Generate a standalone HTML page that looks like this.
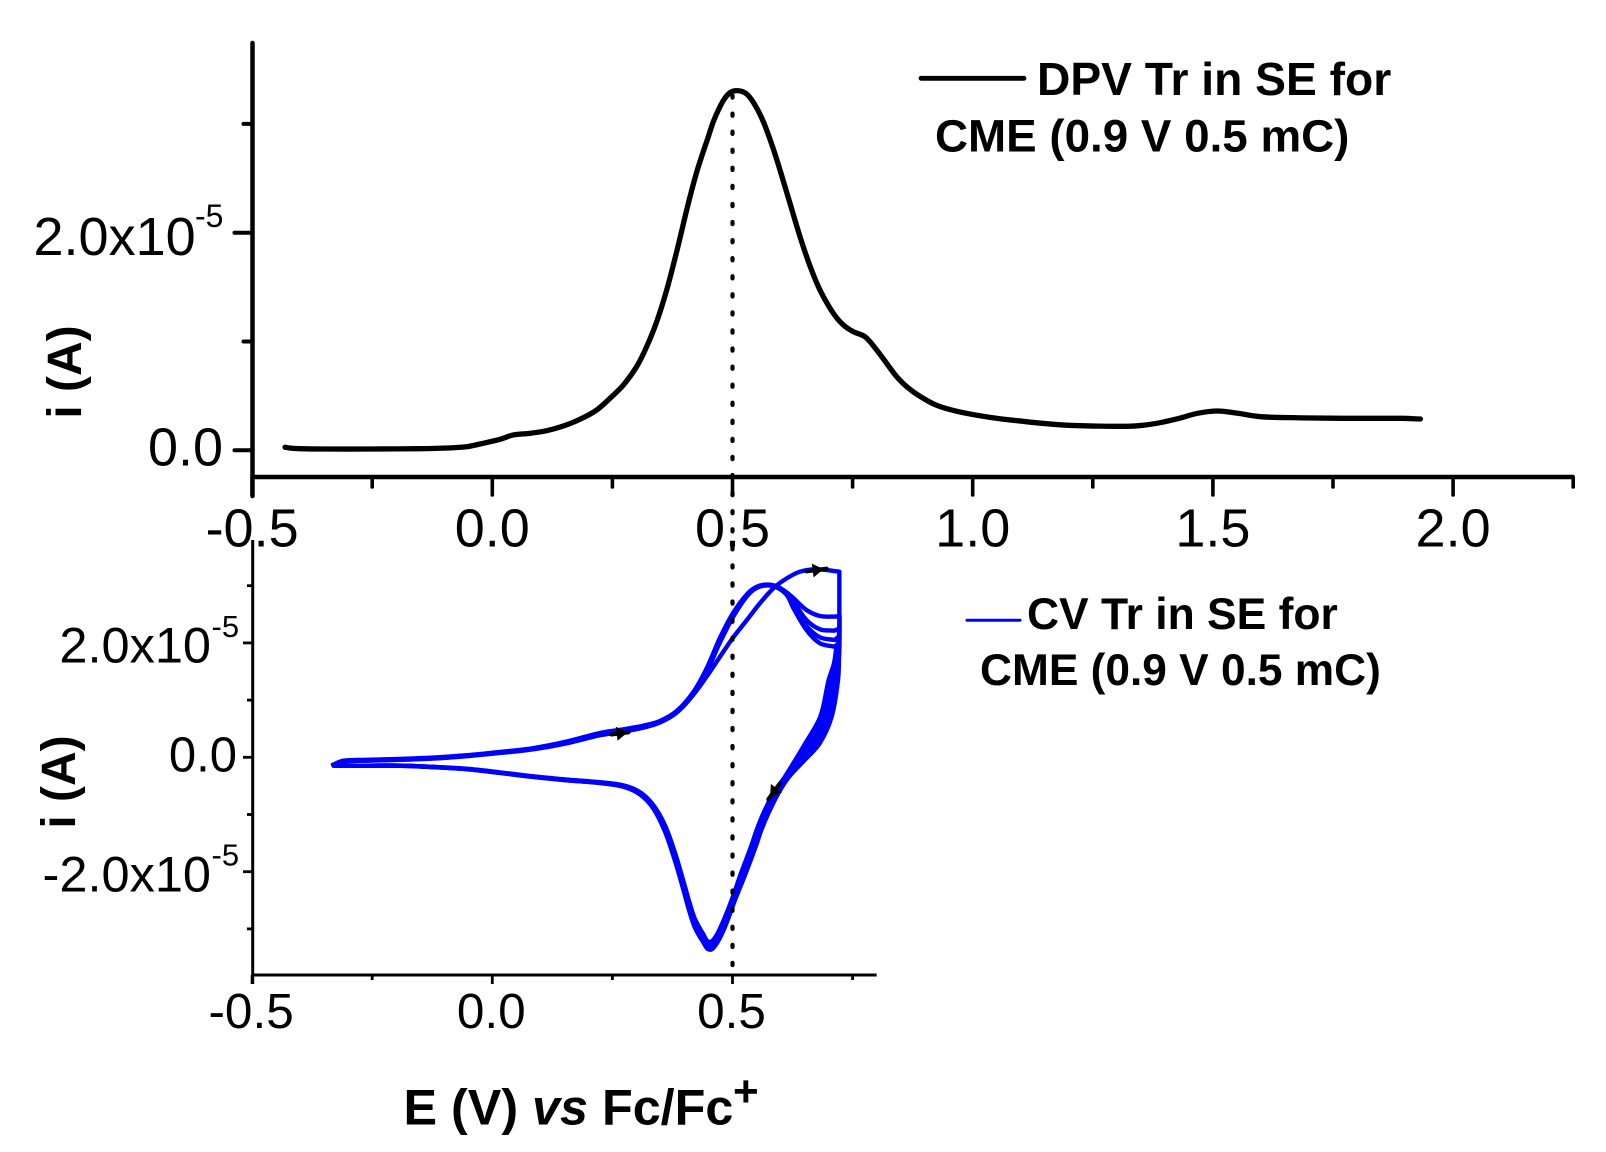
<!DOCTYPE html>
<html lang="en">
<head>
<meta charset="utf-8">
<title>DPV and CV of Tr in SE for CME</title>
<style>
html,body{margin:0;padding:0;background:#fff;}
svg{display:block;font-family:"Liberation Sans",Arial,sans-serif;}
</style>
</head>
<body>
<svg id="chart" xmlns="http://www.w3.org/2000/svg" width="1606" height="1152" viewBox="0 0 1606 1152">
  <rect width="1606" height="1152" fill="#fff"/>
  <g id="top-panel"></g>
  <g id="bottom-panel"></g>
  <g>
    <line x1="921" y1="78.3" x2="1024" y2="78.3" stroke="#000" stroke-width="4.8" stroke-linecap="round"/>
    <text x="1037" y="95" font-size="46.2" font-weight="bold">DPV Tr in SE for</text>
    <text x="935" y="151.7" font-size="45.75" font-weight="bold">CME (0.9 V 0.5 mC)</text>
  </g>
  <g>
    <line x1="967" y1="620.3" x2="1020" y2="620.3" stroke="#0000ff" stroke-width="3" stroke-linecap="round"/>
    <text x="1027" y="629" font-size="44.4" font-weight="bold">CV Tr in SE for</text>
    <text x="980" y="685" font-size="44.25" font-weight="bold">CME (0.9 V 0.5 mC)</text>
  </g>
  <text transform="translate(81 372) rotate(-90)" text-anchor="middle" font-size="48" font-weight="bold">i (A)</text>
  <text transform="translate(75 782) rotate(-90)" text-anchor="middle" font-size="48" font-weight="bold">i (A)</text>
  <text x="403.5" y="1124.3" font-size="50.3" font-weight="bold">E (V) <tspan font-style="italic">vs</tspan> Fc/Fc</text>
  <text x="733" y="1106" font-size="44" font-weight="bold">+</text>
</svg>
<script>
// ---------- Axis ticks ----------
const topXTicks = [-0.5,-0.25,0,0.25,0.5,0.75,1,1.25,1.5,1.75,2,2.25];
const topXMajor = [1,0,1,0,1,0,1,0,1,0,1,0];
const topXLabelValues = [-0.5,0,0.5,1,1.5,2];
const topXLabels = ['-0.5','0.0','0.5','1.0','1.5','2.0'];
const topYTicks = [0,1,2,3];
const topYMajor = [1,0,1,0];
const topYLabelValues = [0,2];
const topYLabels = ['0.0','2.0x10'];
const topYExponents = ['','-5'];

const botXTicks = [-0.5,-0.25,0,0.25,0.5,0.75];
const botXMajor = [1,0,1,0,1,0];
const botXLabelValues = [-0.5,0,0.5];
const botXLabels = ['-0.5','0.0','0.5'];
const botYTicks = [-3,-2,-1,0,1,2,3];
const botYMajor = [0,1,0,1,0,1,0];
const botYLabelValues = [-2,0,2];
const botYLabels = ['-2.0x10','0.0','2.0x10'];
const botYExponents = ['-5','','-5'];

// ---------- DPV curve: potential (V), current (1e-5 A) ----------
const dpvE = [-0.4315,-0.42,-0.40,-0.35,-0.25,-0.15,-0.10,-0.07,-0.05,-0.0256,0.016,0.0438,0.0785,0.1132,0.1479,0.1826,0.2172,0.245,0.2728,0.3005,0.3213,0.3422,0.363,0.3838,0.4081,0.4268,0.4497,0.4615,0.4795,0.4948,0.5121,0.5295,0.5468,0.5642,0.5815,0.5989,0.6197,0.6405,0.6613,0.6821,0.7099,0.7307,0.7515,0.7758,0.8001,0.8209,0.8417,0.8626,0.886,0.9237,0.9707,1.036,1.111,1.186,1.252,1.336,1.383,1.43,1.468,1.51,1.552,1.599,1.665,1.768,1.892,1.932];
const dpvI = [0.028,0.02,0.015,0.012,0.012,0.015,0.02,0.027,0.035,0.058,0.101,0.141,0.156,0.18,0.223,0.285,0.37,0.478,0.6,0.769,0.952,1.182,1.473,1.826,2.27,2.576,2.883,3.036,3.204,3.287,3.305,3.275,3.174,3.02,2.815,2.576,2.27,1.964,1.694,1.473,1.259,1.152,1.09,1.044,0.922,0.799,0.677,0.585,0.508,0.416,0.355,0.303,0.263,0.233,0.223,0.223,0.248,0.294,0.34,0.361,0.34,0.309,0.3,0.294,0.294,0.288];

// ---------- CV traces: potential (V), current (1e-5 A) ----------
const cvFwdE1 = [-0.31,-0.262,-0.192,-0.123,-0.053,0.016,0.085,0.155,0.224,0.266,0.314,0.349,0.384,0.418,0.446,0.474,0.501,0.53,0.557,0.585,0.613,0.6405,0.675,0.7224];
const cvFwdI1 = [-0.07,-0.055,-0.038,-0.015,0.026,0.084,0.148,0.255,0.395,0.445,0.52,0.612,0.79,1.089,1.41,1.759,2.09,2.4,2.692,2.954,3.129,3.245,3.286,3.245];

const cvFwdE = [-0.335,-0.31,-0.262,-0.192,-0.123,-0.053,0.016,0.085,0.155,0.224,0.266,0.314,0.349,0.384,0.418,0.446,0.474,0.501,0.53,0.55,0.571,0.592,0.613,0.627,0.654,0.682,0.712];
const cvFwdI2 = [-0.146,-0.06,-0.045,-0.028,-0.005,0.036,0.094,0.16,0.275,0.425,0.48,0.552,0.635,0.81,1.135,1.55,2.09,2.52,2.85,2.98,3.02,2.99,2.88,2.78,2.575,2.47,2.459];
const cvFwdI3 = [-0.146,-0.065,-0.052,-0.035,-0.012,0.029,0.087,0.151,0.262,0.407,0.462,0.536,0.623,0.798,1.119,1.526,2.051,2.488,2.837,2.972,3.012,2.98,2.86,2.721,2.4,2.238,2.214];
const cvFwdI4 = [-0.146,-0.07,-0.056,-0.04,-0.018,0.024,0.082,0.146,0.252,0.398,0.45,0.526,0.615,0.79,1.105,1.51,2.03,2.47,2.825,2.965,3.008,2.975,2.85,2.663,2.295,2.098,2.051];
const cvFwdI5 = [-0.146,-0.072,-0.06,-0.044,-0.022,0.02,0.076,0.14,0.244,0.385,0.44,0.518,0.608,0.782,1.095,1.49,2.01,2.45,2.815,2.96,3.005,2.97,2.837,2.605,2.226,1.993,1.934];

const cvRevE1 = [0.7224,0.7224,0.7217,0.7196,0.7064,0.6815,0.6502,0.618,0.5954,0.5746,0.56,0.5482,0.5274,0.5052,0.483,0.465,0.4518];
const cvRevI1 = [3.245,2.226,1.759,1.351,0.71,0.244,-0.047,-0.339,-0.63,-0.98,-1.271,-1.562,-2.028,-2.495,-2.99,-3.281,-3.363];
const cvRevE2 = [0.723,0.722,0.716,0.7,0.673,0.644,0.614,0.591,0.571,0.557,0.545,0.525,0.503,0.481,0.464,0.4515];
const cvRevI2 = [2.47,1.8,1.351,0.71,0.244,-0.047,-0.339,-0.63,-0.98,-1.271,-1.562,-2.028,-2.495,-2.97,-3.25,-3.33];
const cvRevE3 = [0.722,0.72,0.712,0.695,0.665,0.64,0.612,0.589,0.569,0.555,0.543,0.523,0.502,0.481,0.464,0.4513];
const cvRevI3 = [2.25,1.75,1.351,0.71,0.244,-0.047,-0.339,-0.63,-0.98,-1.271,-1.562,-2.028,-2.495,-2.95,-3.22,-3.3];
const cvRevE4 = [0.72,0.718,0.706,0.689,0.658,0.635,0.61,0.587,0.567,0.553,0.541,0.52,0.5,0.48,0.464,0.4512];
const cvRevI4 = [2.1,1.7,1.351,0.71,0.244,-0.047,-0.339,-0.63,-0.98,-1.271,-1.562,-2.028,-2.495,-2.93,-3.19,-3.26];
const cvRevE5 = [0.7168,0.7113,0.7002,0.6828,0.6516,0.6308,0.6093,0.585,0.5642,0.5503,0.5385,0.5177,0.4983,0.4788,0.4636,0.4511];
const cvRevI5 = [1.963,1.643,1.351,0.71,0.244,-0.047,-0.339,-0.63,-0.98,-1.271,-1.562,-2.028,-2.495,-2.903,-3.153,-3.229];

const cvRetE = [0.4393,0.4219,0.4101,0.3976,0.3803,0.3595,0.3352,0.3075,0.2728,0.2242,0.1548,0.0853,0.016,-0.0534,-0.1228,-0.1921,-0.2615,-0.331];
const cvRetI1 = [-3.235,-2.98,-2.69,-2.31,-1.81,-1.3,-0.895,-0.65,-0.515,-0.45,-0.402,-0.344,-0.274,-0.208,-0.172,-0.148,-0.147,-0.146];
const cvRetI2 = [-3.2,-2.94,-2.65,-2.27,-1.77,-1.27,-0.88,-0.64,-0.508,-0.447,-0.4,-0.341,-0.271,-0.206,-0.171,-0.147,-0.146,-0.146];
const cvRetI3 = [-3.165,-2.903,-2.611,-2.232,-1.737,-1.242,-0.863,-0.63,-0.502,-0.443,-0.397,-0.339,-0.269,-0.205,-0.17,-0.146,-0.146,-0.146];
const cvRetI4 = [-3.13,-2.865,-2.57,-2.2,-1.7,-1.215,-0.85,-0.62,-0.497,-0.44,-0.394,-0.336,-0.267,-0.203,-0.169,-0.145,-0.146,-0.146];
const cvRetI5 = [-3.095,-2.83,-2.53,-2.16,-1.67,-1.19,-0.835,-0.61,-0.49,-0.436,-0.39,-0.333,-0.264,-0.2,-0.167,-0.144,-0.146,-0.146];

// Direction arrows on the CV (potential / current of tail and head)
const arrowFromE = [0.2485,0.6544,0.5989];
const arrowFromI = [0.40,3.252,-0.455];
const arrowToE = [0.2832,0.696,0.5746];
const arrowToI = [0.437,3.298,-0.735];

// Reference potential of the dotted guide line (V)
const guideE = 0.5;

// ---------- Axis functions ----------
const xScale = E => 492.3 + E * 480.4;
const yTop = I => 450.3 - I * 108.8;
const yBot = I => 757.3 - I * 57.2;

const NS = 'http://www.w3.org/2000/svg';
const svg = document.getElementById('chart');
const topG = document.getElementById('top-panel');
const botG = document.getElementById('bottom-panel');

function make(parent, tag, attrs, text) {
  const e = document.createElementNS(NS, tag);
  for (const k in attrs) e.setAttribute(k, attrs[k]);
  if (text !== undefined) e.textContent = text;
  parent.appendChild(e);
  return e;
}

function smooth(pts) {
  let d = 'M' + pts[0][0].toFixed(2) + ' ' + pts[0][1].toFixed(2);
  const tan = i => {
    const a = pts[Math.max(i - 1, 0)], b = pts[Math.min(i + 1, pts.length - 1)];
    const dx = b[0] - a[0], dy = b[1] - a[1], l = Math.hypot(dx, dy) || 1;
    return [dx / l, dy / l];
  };
  for (let i = 0; i < pts.length - 1; i++) {
    const p = pts[i], q = pts[i + 1], s = Math.hypot(q[0] - p[0], q[1] - p[1]) / 3;
    const t0 = tan(i), t1 = tan(i + 1);
    d += 'C' + (p[0] + t0[0] * s).toFixed(2) + ' ' + (p[1] + t0[1] * s).toFixed(2) + ' ' +
         (q[0] - t1[0] * s).toFixed(2) + ' ' + (q[1] - t1[1] * s).toFixed(2) + ' ' +
         q[0].toFixed(2) + ' ' + q[1].toFixed(2);
  }
  return d;
}

function toPts(Es, Is, y) { return Es.map((E, i) => [xScale(E), y(Is[i])]); }

// ---------- Top panel axes ----------
const topXAxis = make(topG, 'line', {x1: xScale(-0.5), y1: 477, x2: xScale(2.25) + 1, y2: 477, stroke: '#000', 'stroke-width': 4.5});


const topYAxis = make(topG, 'line', {x1: 252.5, y1: 43, x2: 252.5, y2: 496, stroke: '#000', 'stroke-width': 4.5, 'stroke-linecap': 'round'});



topXTicks.forEach((v, i) => {
  const t = make(topG, 'line', {x1: xScale(v), y1: 477, x2: xScale(v), y2: topXMajor[i] ? 495 : 487, stroke: '#000', 'stroke-width': 3.6, 'stroke-linecap': 'round'});
  
  
});
topXLabelValues.forEach((v, i) => {
  const t = make(topG, 'text', {x: xScale(v), y: 546.7, 'font-size': 54, 'text-anchor': 'middle'}, topXLabels[i]);
  
  
});
topYTicks.forEach((v, i) => {
  const t = make(topG, 'line', {x1: 252.5, y1: yTop(v), x2: topYMajor[i] ? 234.5 : 243.5, y2: yTop(v), stroke: '#000', 'stroke-width': 4, 'stroke-linecap': 'round'});
  
  
});
topYLabelValues.forEach((v, i) => {
  const exp = topYExponents[i];
  const t = make(topG, 'text', {x: exp ? 33.5 : 148, y: yTop(v) + (exp ? 22.3 : 15.4), 'font-size': 54}, topYLabels[i]);
  
  
  if (exp) {
    const s = make(topG, 'text', {x: 195, y: yTop(v) - 5.7, 'font-size': 32}, exp);
    
    
  }
});

// ---------- DPV series ----------
const dpvLine = make(topG, 'path', {d: smooth(toPts(dpvE, dpvI, yTop)), fill: 'none', stroke: '#000', 'stroke-width': 5.3, 'stroke-linecap': 'round', 'stroke-linejoin': 'round'});



// ---------- Bottom panel axes ----------
const botXAxis = make(botG, 'line', {x1: xScale(-0.5), y1: 975, x2: xScale(0.8), y2: 975, stroke: '#000', 'stroke-width': 3});


const botYAxis = make(botG, 'line', {x1: 252.7, y1: 540, x2: 252.7, y2: 984, stroke: '#000', 'stroke-width': 3});



botXTicks.forEach((v, i) => {
  const t = make(botG, 'line', {x1: xScale(v), y1: 975, x2: xScale(v), y2: botXMajor[i] ? 984 : 980, stroke: '#000', 'stroke-width': 2.8});
  
  
});
botXLabelValues.forEach((v, i) => {
  const t = make(botG, 'text', {x: xScale(v) - 1, y: 1028, 'font-size': 49.5, 'text-anchor': 'middle'}, botXLabels[i]);
  
  
});
botYTicks.forEach((v, i) => {
  const t = make(botG, 'line', {x1: 252.7, y1: yBot(v), x2: botYMajor[i] ? 243 : 247, y2: yBot(v), stroke: '#000', 'stroke-width': 2.8});
  
  
});
botYLabelValues.forEach((v, i) => {
  const exp = botYExponents[i];
  const t = make(botG, 'text', {x: 211, y: yBot(v) + (exp ? 19.8 : 14.4), 'font-size': 50.5, 'text-anchor': 'end'}, botYLabels[i]);
  if (!exp) { t.setAttribute('x', 237); t.setAttribute('font-size', 49); }
  
  
  if (exp) {
    const s = make(botG, 'text', {x: 211.5, y: yBot(v) - 6, 'font-size': 31}, exp);
    
    
  }
});

// ---------- CV series ----------
function cyclePath(fE, fI, rE, rI, retI) {
  const forward = smooth(toPts(fE, fI, yBot));
  const back = smooth(toPts(rE.concat(cvRetE), rI.concat(retI), yBot));
  return forward + 'L' + back.slice(1);
}
const cv1 = make(botG, 'path', {d: cyclePath(cvFwdE1, cvFwdI1, cvRevE1, cvRevI1, cvRetI1), fill: 'none', stroke: '#0000ff', 'stroke-width': 4.4, 'stroke-linejoin': 'round'});


const cv2 = make(botG, 'path', {d: cyclePath(cvFwdE, cvFwdI2, cvRevE2, cvRevI2, cvRetI2), fill: 'none', stroke: '#0000ff', 'stroke-width': 4.4, 'stroke-linejoin': 'round'});


const cv3 = make(botG, 'path', {d: cyclePath(cvFwdE, cvFwdI3, cvRevE3, cvRevI3, cvRetI3), fill: 'none', stroke: '#0000ff', 'stroke-width': 4.4, 'stroke-linejoin': 'round'});


const cv4 = make(botG, 'path', {d: cyclePath(cvFwdE, cvFwdI4, cvRevE4, cvRevI4, cvRetI4), fill: 'none', stroke: '#0000ff', 'stroke-width': 4.4, 'stroke-linejoin': 'round'});


const cv5 = make(botG, 'path', {d: cyclePath(cvFwdE, cvFwdI5, cvRevE5, cvRevI5, cvRetI5), fill: 'none', stroke: '#0000ff', 'stroke-width': 4.4, 'stroke-linejoin': 'round'});



// ---------- Direction arrows ----------
arrowFromE.forEach((E, i) => {
  const x1 = xScale(E), y1 = yBot(arrowFromI[i]), x2 = xScale(arrowToE[i]), y2 = yBot(arrowToI[i]);
  const dx = x2 - x1, dy = y2 - y1, l = Math.hypot(dx, dy), ux = dx / l, uy = dy / l;
  const mx = x1 + dx * 0.3, my = y1 + dy * 0.3, hw = 7, hl = 11;
  const g = make(botG, 'g', {});
  
  
  make(g, 'line', {x1: x1, y1: y1, x2: x2, y2: y2, stroke: '#000', 'stroke-width': 4.2, 'stroke-linecap': 'round'});
  make(g, 'polygon', {fill: '#000', points: [
    [mx - uy * hw, my + ux * hw],
    [mx + uy * hw, my - ux * hw],
    [mx + ux * hl, my + uy * hl]
  ].map(p => p[0].toFixed(1) + ',' + p[1].toFixed(1)).join(' ')});
});

// ---------- Dotted guide ----------
const guide = make(svg, 'line', {x1: xScale(guideE), y1: 95.5, x2: xScale(guideE), y2: 966, stroke: '#000', 'stroke-width': 4.2, 'stroke-linecap': 'round', 'stroke-dasharray': '2.2 15.87'});


</script>
</body>
</html>
